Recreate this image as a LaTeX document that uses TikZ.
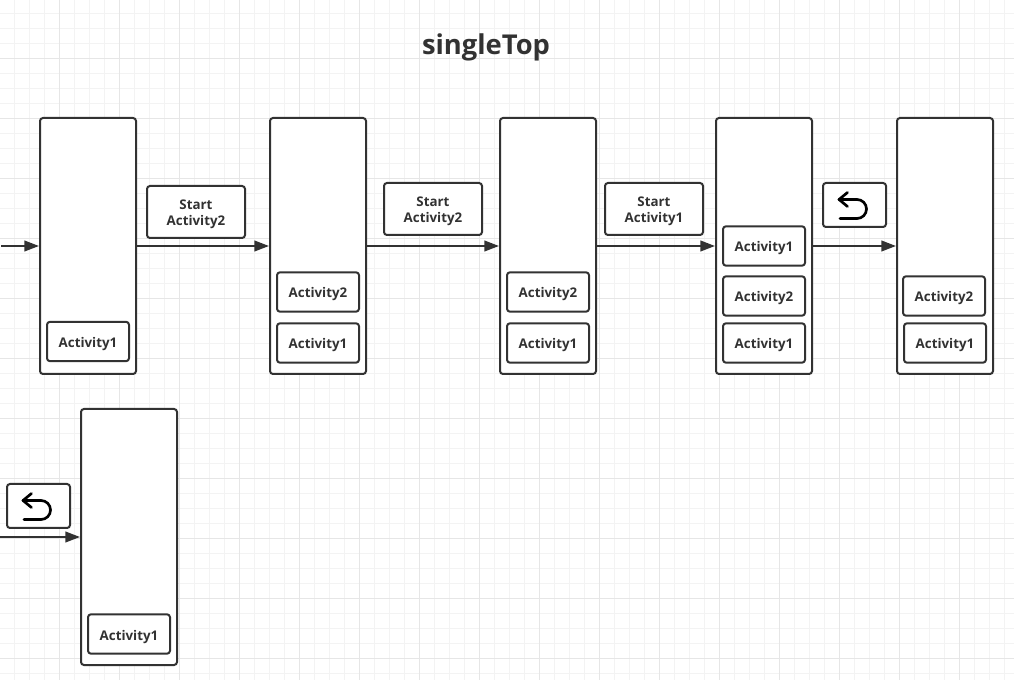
\documentclass[tikz,border=0pt]{standalone}
\usepackage{fontspec}
\setmainfont{Open Sans}
\usetikzlibrary{arrows.meta}
\definecolor{inkgrey}{HTML}{323232}
\definecolor{minorgrey}{HTML}{F3F3F3}
\definecolor{majorgrey}{HTML}{E6E6E6}

\begin{document}
\begin{tikzpicture}[x=0.75pt,y=-0.75pt]
    \tikzstyle{stack}=[draw=inkgrey,fill=white,line width=1.5pt,rounded corners=2.2pt,minimum width=72pt,minimum height=192pt,inner sep=0pt]
    \tikzstyle{activity}=[draw=inkgrey,fill=white,line width=1.5pt,rounded corners=2.2pt,minimum width=61.5pt,minimum height=29.5pt,inner sep=0pt,text=inkgrey,font=\fontsize{10}{12}\selectfont\bfseries,text height=9pt,text depth=0pt]
    \tikzstyle{start}=[activity,minimum width=73.5pt,minimum height=39pt,align=center,text height=21pt]
    \tikzstyle{backbox}=[activity,minimum width=47.25pt,minimum height=33pt]
    \tikzstyle{flow}=[draw=inkgrey,line width=1.5pt,-{Triangle[length=11pt,width=8pt]}]
    \tikzstyle{backicon}=[draw=black,line width=2pt,line cap=round,line join=round]
    \useasboundingbox (0,0) rectangle (1014,680);

    % paper grid
    \foreach \k in {0,...,67}
        \draw[minorgrey,line width=0.75pt] ({14.5+15*\k},0) -- ({14.5+15*\k},680);
    \foreach \k in {0,...,44}
        \draw[minorgrey,line width=0.75pt] (0,{13.5+15*\k}) -- (1014,{13.5+15*\k});
    \foreach \k in {0,...,16}
        \draw[majorgrey,line width=0.75pt] ({59.5+60*\k},0) -- ({59.5+60*\k},680);
    \foreach \k in {0,...,10}
        \draw[majorgrey,line width=0.75pt] (0,{58.5+60*\k}) -- (1014,{58.5+60*\k});

    \node[text=inkgrey,font=\fontsize{20.5}{24}\selectfont\bfseries] (title) at (486,47) {singleTop};

    \foreach \num/\x/\y in {1/88/246, 2/318/246, 3/548/246, 4/764/246, 5/945/246, 6/129/537}
        \node[stack] (S-\num) at (\x,\y) {};

    \foreach \name/\x/\y/\txt in {A-1/88/341.5/1, B-1/318/292/2, B-2/318/343/1, C-1/548/292/2, C-2/548/343/1, D-1/764/246/1, D-2/764/296/2, D-3/764/343/1, E-1/944/296/2, E-2/945/343/1, F-1/129/634/1}
        \node[activity] (\name) at (\x,\y) {Activity\txt};

    \node[start] (go-1) at (196,212) {Start\\Activity2};
    \node[start] (go-2) at (433,209) {Start\\Activity2};
    \node[start] (go-3) at (654,209) {Start\\Activity1};

    \node[backbox] (back-1) at (854.5,205) {};
    \node[backbox] (back-2) at (38.5,506) {};

    % return glyph inside both boxes
    \foreach \btn in {back-1,back-2} {
        \draw[backicon] (\btn) ++(-15.5,-5.5) -- ++(18,0) arc[start angle=-90,end angle=90,radius=9.5] -- ++(-17,0);
        \draw[backicon] (\btn) ++(-7,-12.5) -- ++(-8.5,7) -- ++(8.5,7);
    }

    \coordinate (in-1) at (1,246);
    \coordinate (in-2) at (0,537);

    \draw[flow] (in-1) -- (S-1);
    \foreach \from/\to in {1/2,2/3,3/4,4/5}
        \draw[flow] (S-\from) -- (S-\to);
    \draw[flow] (in-2) -- (S-6);
\end{tikzpicture}
\end{document}
